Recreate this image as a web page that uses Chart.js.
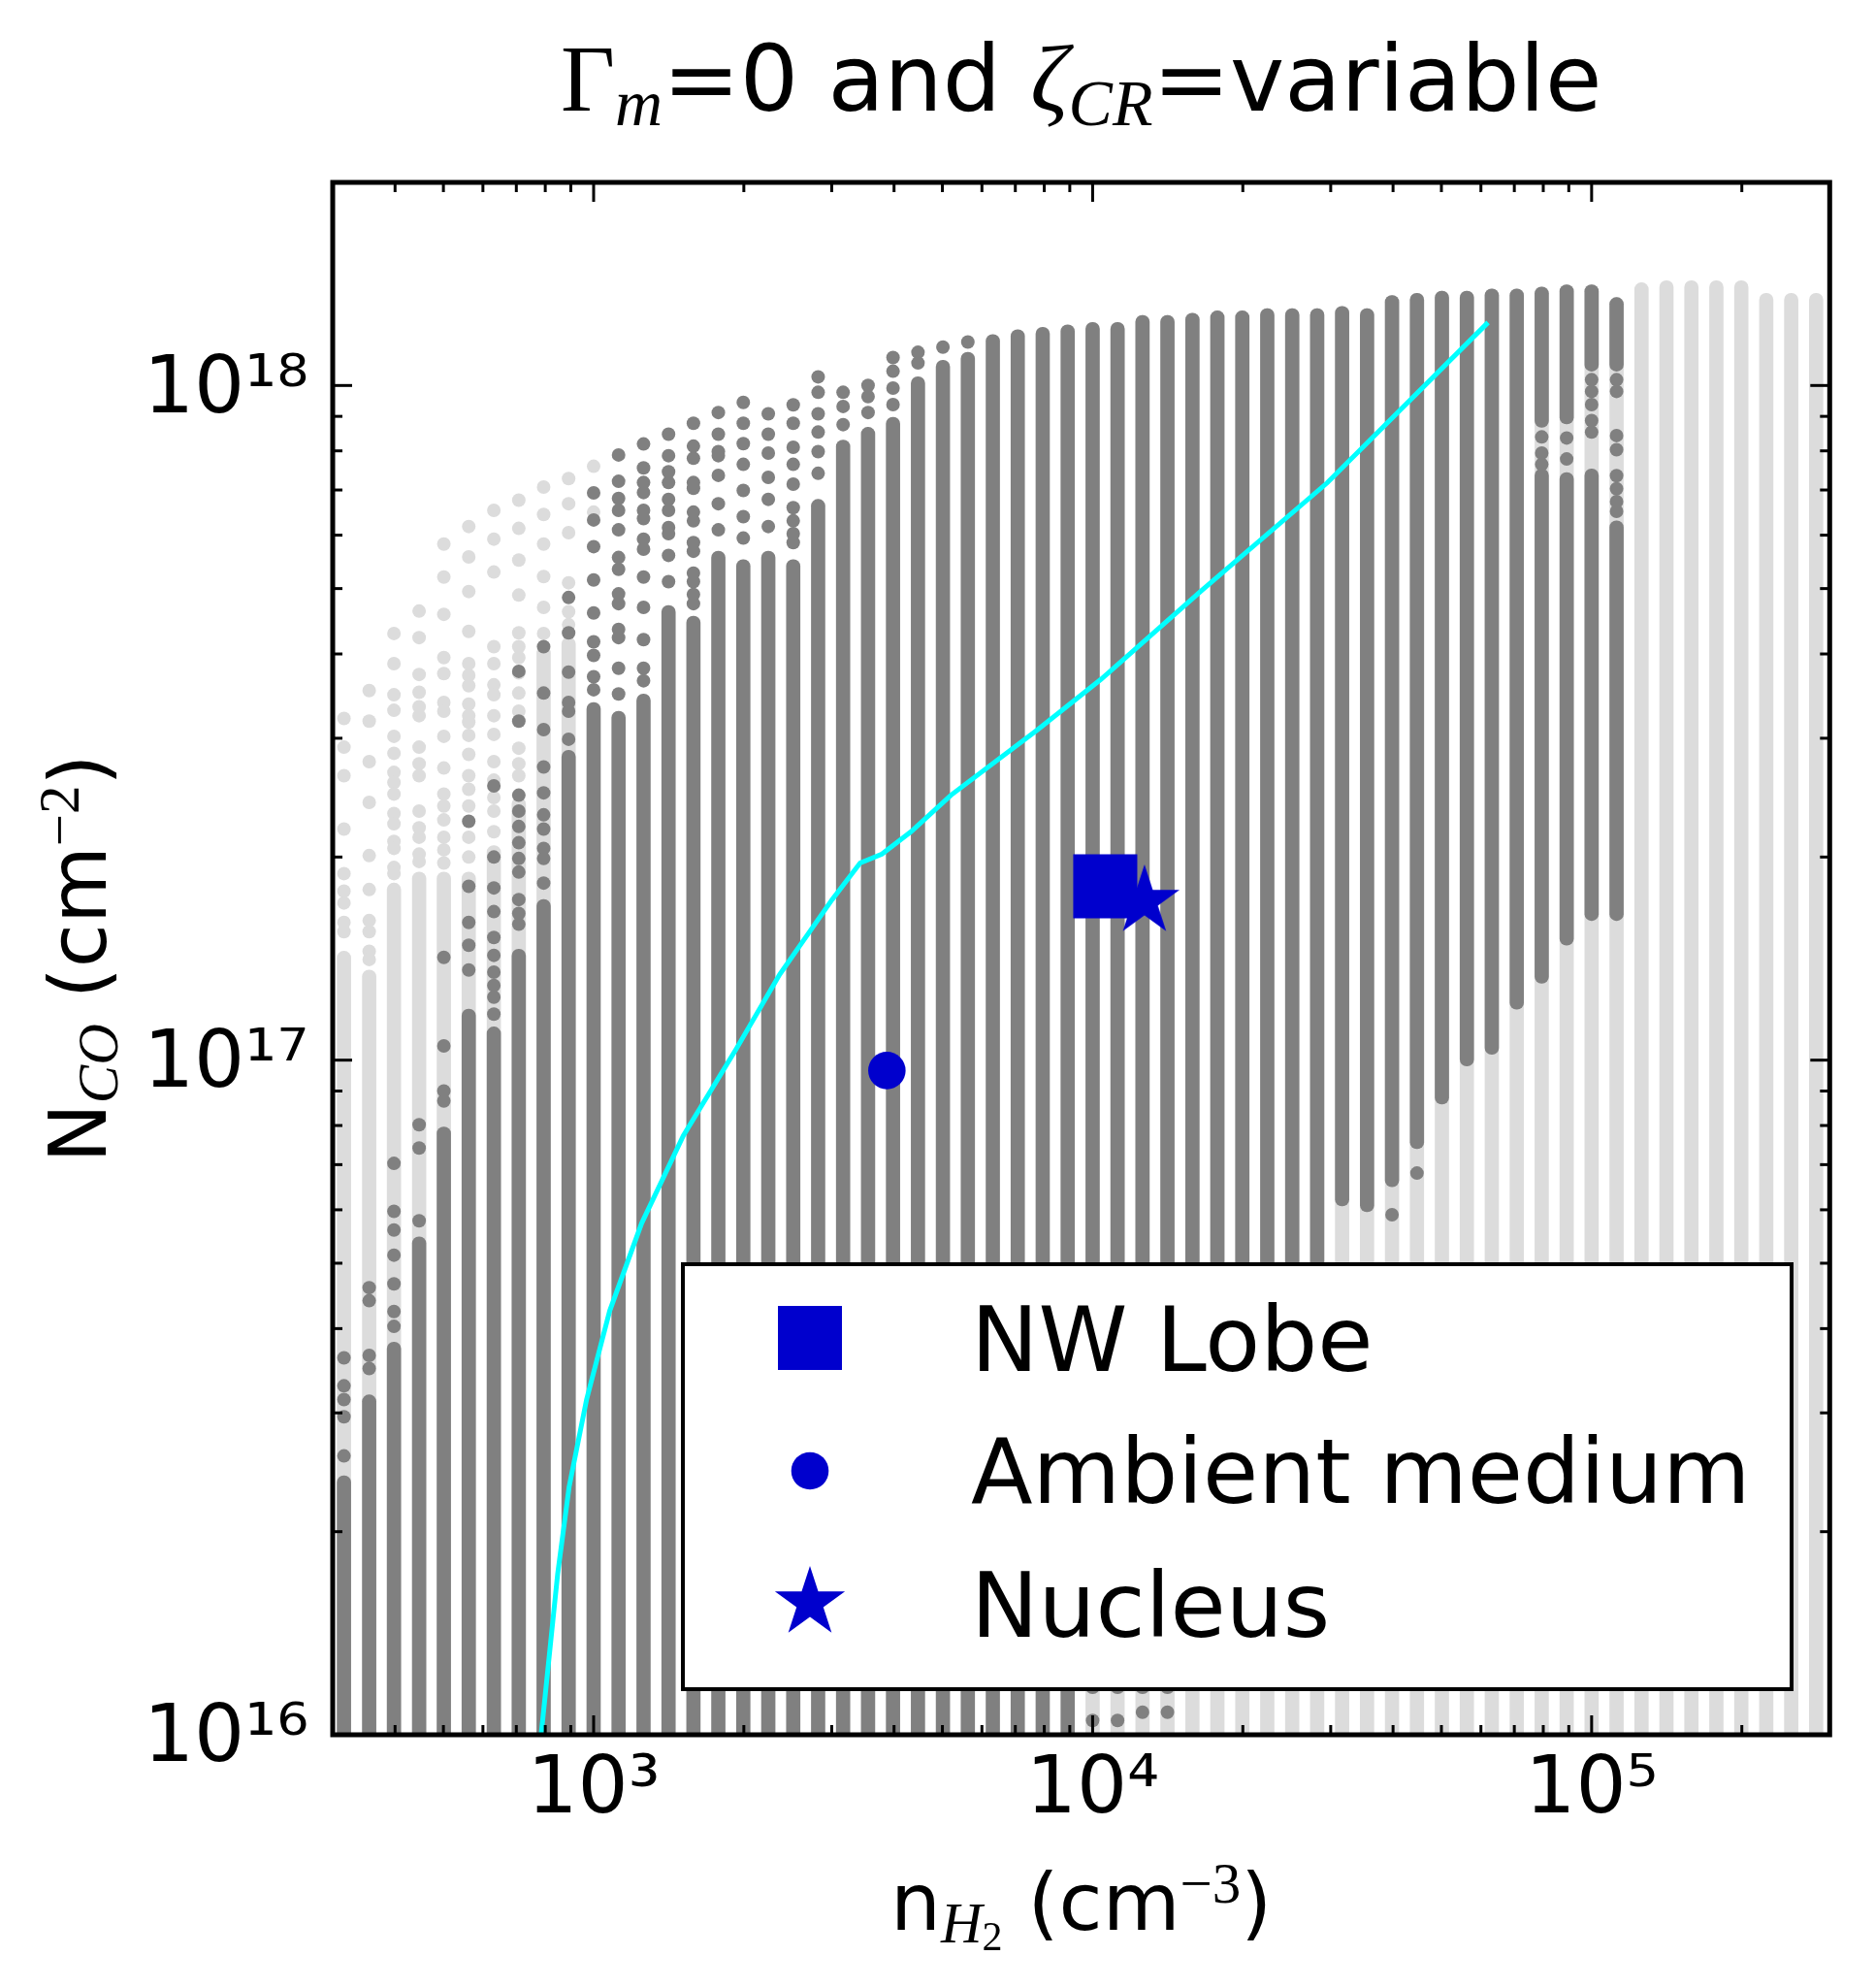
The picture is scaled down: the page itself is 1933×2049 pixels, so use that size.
<!DOCTYPE html>
<html>
<head>
<meta charset="utf-8">
<script src="https://cdn.jsdelivr.net/npm/chart.js@4.4.1/dist/chart.umd.min.js"></script>
<style>
html,body{margin:0;padding:0;background:#ffffff;overflow:hidden}
canvas{display:block}
</style>
</head>
<body>
<canvas id="c" width="1933" height="2049" style="width:1933px;height:2049px"></canvas>
<script>
// ---------------- DATA ----------------
// model density grid (n_H2, cm^-3), one column of models per value
const nH2Grid = [316, 355, 398, 447, 501, 562, 631, 708, 794, 891,
  1000, 1122, 1259, 1413, 1585, 1778, 1995, 2239, 2512, 2818,
  3162, 3548, 3981, 4467, 5012, 5623, 6310, 7079, 7943, 8913,
  10000, 11220, 12589, 14125, 15849, 17783, 19953, 22387, 25119, 28184,
  31623, 35481, 39811, 44668, 50119, 56234, 63096, 70795, 79433, 89125,
  100000, 112202, 125893, 141254, 158489, 177828, 199526, 223872, 251189, 281838];

// lowest model column density (runs below the plotted range)
const modelFloor = 8e15;

// all models (light grey): top of the continuous part of each column
const allModelsTop = [1.45e17, 1.36e17, 1.83e17, 1.90e17, 1.90e17, 1.90e17, 2.08e17, 2.45e17, 4.10e17, 4.23e17,
  null, null, null, null, null, null, null, null, null, null,
  null, null, null, null, null, null, null, null, null, null,
  1.24e18, 1.24e18, 1.27e18, 1.27e18, 1.28e18, 1.29e18, 1.29e18, 1.30e18, 1.30e18, 1.30e18,
  1.31e18, 1.30e18, 1.36e18, 1.37e18, 1.38e18, 1.38e18, 1.39e18, 1.39e18, 1.40e18, 1.41e18,
  1.41e18, 1.35e18, 1.42e18, 1.43e18, 1.43e18, 1.43e18, 1.43e18, 1.37e18, 1.37e18, 1.37e18];

// all models: isolated points above the continuous part
const allModelsSparse = [
  [3.21e17, 2.91e17, 2.64e17, 2.20e17, 1.89e17, 1.78e17, 1.71e17, 1.60e17, 1.55e17],
  [3.53e17, 3.18e17, 2.77e17, 2.41e17, 2.01e17, 1.79e17, 1.61e17, 1.55e17, 1.45e17, 1.41e17],
  [4.29e17, 3.87e17, 3.48e17, 3.30e17, 3.02e17, 2.85e17, 2.67e17, 2.58e17, 2.48e17, 2.32e17, 2.24e17, 2.11e17, 2.06e17, 1.93e17, 1.89e17],
  [4.63e17, 4.23e17, 3.73e17, 3.51e17, 3.34e17, 3.24e17, 2.91e17, 2.75e17, 2.64e17, 2.34e17, 2.21e17, 2.14e17, 2.02e17, 1.97e17],
  [5.82e17, 5.20e17, 4.58e17, 3.95e17, 3.74e17, 3.39e17, 3.29e17, 3.02e17, 2.71e17, 2.48e17, 2.38e17, 2.27e17, 2.14e17, 2.05e17, 1.96e17],
  [6.18e17, 5.57e17, 4.95e17, 4.32e17, 3.87e17, 3.72e17, 3.59e17, 3.37e17, 3.24e17, 3.17e17, 3.03e17, 2.84e17, 2.64e17, 2.52e17, 2.38e17, 2.14e17, 2.00e17],
  [6.53e17, 5.92e17, 5.29e17, 4.10e17, 3.87e17, 3.60e17, 3.48e17, 3.24e17, 3.04e17, 2.77e17, 2.60e17, 2.45e17, 2.34e17, 2.18e17],
  [6.76e17, 6.14e17, 5.51e17, 4.89e17, 4.30e17, 4.10e17, 3.95e17, 3.75e17, 3.50e17, 3.29e17, 2.90e17, 2.75e17, 2.64e17],
  [7.07e17, 6.44e17, 5.82e17, 5.21e17, 4.69e17, 4.29e17],
  [7.28e17, 6.68e17, 6.05e17, 5.10e17, 4.62e17, 4.42e17],
  [7.59e17, 6.49e17],
  [], [], [], [], [], [], [], [], [],
  [], [], [], [], [], [], [], [], [], [],
  [], [], [], [], [], [], [], [], [], [],
  [], [], [], [], [], [], [], [], [], [],
  [], [], [], [], [], [], [], [], [], []];

// models matching the observations (dark grey): continuous part of each column
const fitModelsTop = [2.42e16, 3.19e16, 3.82e16, 5.47e16, 7.96e16, 1.19e17, 1.12e17, 1.46e17, 1.73e17, 2.88e17,
  3.39e17, 3.29e17, 3.49e17, 4.72e17, 4.55e17, 5.68e17, 5.52e17, 5.68e17, 5.52e17, 6.78e17,
  8.30e17, 8.67e17, 8.97e17, 1.03e18, 1.09e18, 1.12e18, 1.19e18, 1.21e18, 1.22e18, 1.23e18,
  1.24e18, 1.24e18, 1.27e18, 1.27e18, 1.28e18, 1.29e18, 1.29e18, 1.30e18, 1.30e18, 1.30e18,
  1.31e18, 1.30e18, 1.36e18, 1.37e18, 1.38e18, 1.38e18, 1.39e18, 1.39e18, 1.40e18, 1.41e18,
  1.41e18, 1.35e18, null, null, null, null, null, null, null, null];
const fitModelsBottom = [8e15, 8e15, 8e15, 8e15, 8e15, 8e15, 8e15, 8e15, 8e15, 8e15,
  8e15, 8e15, 8e15, 8e15, 8e15, 8e15, 8e15, 8e15, 8e15, 8e15,
  8e15, 8e15, 8e15, 8e15, 8e15, 8e15, 8e15, 8e15, 8e15, 8e15,
  1.15e16, 1.15e16, 1.15e16, 1.15e16, 1.2e16, 1.2e16, 1.3e16, 1.4e16, 1.6e16, 2.0e16,
  6.08e16, 5.96e16, 6.49e16, 7.39e16, 8.61e16, 9.80e16, 1.02e17, 1.19e17, 1.30e17, 1.48e17,
  1.61e17, 1.61e17, null, null, null, null, null, null, null, null];
// breaks inside a few dark columns
const fitGapAt = [79433, 89125, 100000, 112202];
const fitGapHigh = [8.67e17, 8.77e17, 1.05e18, 1.05e18];
const fitGapLow = [7.52e17, 7.43e17, 7.52e17, 6.30e17];

// matching models: isolated points
const fitModelsSparse = [
  [3.62e16, 3.29e16, 3.14e16, 2.96e16, 2.59e16],
  [4.60e16, 4.40e16, 3.65e16, 3.49e16],
  [7.03e16, 5.97e16, 5.60e16, 5.14e16, 4.66e16, 4.24e16, 4.03e16],
  [8.02e16, 7.41e16, 5.78e16],
  [1.42e17, 1.05e17, 9.0e16, 8.7e16],
  [2.26e17, 1.81e17, 1.60e17, 1.48e17, 1.36e17],
  [2.55e17, 2.00e17, 1.80e17, 1.66e17, 1.52e17, 1.43e17, 1.35e17, 1.29e17, 1.24e17, 1.17e17],
  [3.77e17, 3.18e17, 2.47e17, 2.34e17, 2.22e17, 2.10e17, 1.99e17, 1.90e17, 1.73e17, 1.65e17, 1.59e17],
  [4.10e17, 3.50e17, 3.09e17, 2.72e17, 2.49e17, 2.31e17, 2.20e17, 2.06e17, 1.99e17, 1.83e17],
  [4.85e17, 4.30e17, 3.76e17, 3.39e17, 3.29e17, 2.99e17],
  [6.93e17, 6.32e17, 5.77e17, 5.15e17, 4.60e17, 4.17e17, 3.98e17, 3.70e17, 3.54e17],
  [7.89e17, 7.21e17, 6.80e17, 6.53e17, 6.11e17, 5.56e17, 5.34e17, 4.91e17, 4.75e17, 4.35e17, 4.23e17, 3.81e17, 3.49e17],
  [8.19e17, 7.55e17, 7.18e17, 6.94e17, 6.53e17, 6.35e17, 5.92e17, 5.72e17, 5.20e17, 4.69e17, 4.20e17, 3.81e17, 3.65e17],
  [8.47e17, 7.87e17, 7.45e17, 7.18e17, 6.78e17, 6.53e17, 6.16e17, 6.03e17, 5.60e17, 5.12e17],
  [8.79e17, 8.13e17, 7.80e17, 7.18e17, 7.04e17, 6.49e17, 6.30e17, 5.85e17, 5.68e17, 5.27e17, 5.12e17, 4.90e17, 4.75e17],
  [9.12e17, 8.47e17, 7.98e17, 7.87e17, 7.36e17, 6.68e17, 6.11e17],
  [9.44e17, 8.79e17, 8.20e17, 7.64e17, 6.99e17, 6.39e17, 5.94e17],
  [9.08e17, 8.47e17, 7.94e17, 7.31e17, 6.78e17, 6.18e17],
  [9.36e17, 8.79e17, 8.10e17, 7.64e17, 7.14e17, 6.59e17, 6.30e17, 6.03e17, 5.85e17],
  [1.03e18, 9.77e17, 9.08e17, 8.53e17, 7.98e17, 7.41e17],
  [9.77e17, 9.31e17, 8.75e17],
  [1.00e18, 9.63e17, 9.12e17],
  [1.10e18, 1.05e18, 9.91e17, 9.37e17],
  [1.12e18, 1.08e18],
  [1.14e18],
  [1.16e18],
  [], [], [], [],
  [1.05e16], [1.05e16], [1.08e16], [1.08e16], [], [], [], [], [], [],
  [], [], [5.9e16], [6.8e16], [], [], [], [], [8.39e17, 7.94e17, 7.64e17], [8.36e17, 7.78e17],
  [1.02e18, 9.80e17, 9.37e17, 8.87e17, 8.53e17], [1.02e18, 9.80e17, 8.43e17, 8.03e17, 7.35e17, 7.03e17, 6.73e17, 6.51e17],
  [], [], [], [], [], [], [], []];

// cyan model curve
const curveNH2 = [785, 847, 893, 968, 1077, 1248, 1513, 1933, 2360, 3006, 3420, 3782, 4324, 5200, 7762, 10400, 16600, 29500, 62000];
const curveNCO = [1.0e16, 1.73e16, 2.33e16, 3.14e16, 4.25e16, 5.73e16, 7.73e16, 1.04e17, 1.34e17, 1.73e17, 1.96e17, 2.02e17, 2.18e17, 2.47e17, 3.09e17, 3.67e17, 4.98e17, 7.17e17, 1.24e18];

// observed sources
const sourceNames = ['NW Lobe', 'Ambient medium', 'Nucleus'];
const sourceNH2 = [1.06e4, 3.87e3, 1.27e4];
const sourceNCO = [1.81e17, 9.65e16, 1.72e17];

// axes
const xMajorTicks = [1e3, 1e4, 1e5];
const xTickLabels = ['10³', '10⁴', '10⁵'];
const yMajorTicks = [1e16, 1e17, 1e18];
const yTickLabels = ['10¹⁶', '10¹⁷', '10¹⁸'];
const xMinorTicks = [400, 500, 600, 700, 800, 900, 2000, 3000, 4000, 5000, 6000, 7000, 8000, 9000,
  20000, 30000, 40000, 50000, 60000, 70000, 80000, 90000, 200000];
const yMinorTicks = [2e16, 3e16, 4e16, 5e16, 6e16, 7e16, 8e16, 9e16, 2e17, 3e17, 4e17, 5e17, 6e17, 7e17, 8e17, 9e17];

// ---------------- STYLE ----------------
const SANS = '"DejaVu Sans", sans-serif';
const SERIF = '"Liberation Serif", "DejaVu Serif", serif';
const DARK = '#808080', LIGHT = '#dcdcdc', BLUE = '#0000cd', CYAN = '#00ffff';

function makeStar(R) {
  const s = Math.ceil(2 * R + 4);
  const c = document.createElement('canvas');
  c.width = s; c.height = s;
  const g = c.getContext('2d');
  g.fillStyle = BLUE;
  g.beginPath();
  for (let i = 0; i < 10; i++) {
    const r = i % 2 === 0 ? R : R * 0.381966;
    const a = -Math.PI / 2 + i * Math.PI / 5;
    const px = s / 2 + r * Math.cos(a), py = s / 2 + r * Math.sin(a);
    if (i === 0) g.moveTo(px, py); else g.lineTo(px, py);
  }
  g.closePath();
  g.fill();
  return c;
}
const starImg = makeStar(38);

// ---------------- BUILD DATASETS ----------------
const lightBars = [], darkBars = [], lightDots = [], darkDots = [];
nH2Grid.forEach((n, i) => {
  if (allModelsTop[i] !== null) lightBars.push({x: n, y: [modelFloor, allModelsTop[i]]});
  allModelsSparse[i].forEach(v => lightDots.push({x: n, y: v}));
  if (fitModelsTop[i] !== null) {
    const g = fitGapAt.indexOf(n);
    if (g >= 0) {
      darkBars.push({x: n, y: [fitModelsBottom[i], fitGapLow[g]]});
      darkBars.push({x: n, y: [fitGapHigh[g], fitModelsTop[i]]});
    } else {
      darkBars.push({x: n, y: [fitModelsBottom[i], fitModelsTop[i]]});
    }
  }
  fitModelsSparse[i].forEach(v => darkDots.push({x: n, y: v}));
});
const curve = curveNH2.map((n, i) => ({x: n, y: curveNCO[i]}));
const src = sourceNH2.map((n, i) => ({x: n, y: sourceNCO[i]}));

const barCommon = {type: 'bar', barThickness: 14, borderRadius: 7, borderSkipped: false, borderWidth: 0, grouped: false, clip: 0};
const dotCommon = {type: 'scatter', pointRadius: 7, pointBorderWidth: 0, borderWidth: 0, clip: 0};

// ---------------- PLUGINS ----------------
function drawRich(ctx, segs, x, y) {
  let total = 0;
  segs.forEach(s => { ctx.font = s.font; s.w = ctx.measureText(s.text).width; total += s.w; });
  let cx = x - total / 2;
  segs.forEach(s => { ctx.font = s.font; ctx.fillText(s.text, cx, y + (s.dy || 0)); cx += s.w; });
}

const framePlugin = {
  id: 'frame',
  afterDatasetsDraw(chart) {
    const {ctx, chartArea: a, scales: {x, y}} = chart;
    ctx.save();
    ctx.strokeStyle = '#000';
    ctx.lineWidth = 3;
    ctx.lineCap = 'butt';
    const seg = (x1, y1, x2, y2) => { ctx.beginPath(); ctx.moveTo(x1, y1); ctx.lineTo(x2, y2); ctx.stroke(); };
    xMajorTicks.forEach(v => { const p = x.getPixelForValue(v); seg(p, a.bottom, p, a.bottom - 20); seg(p, a.top, p, a.top + 20); });
    xMinorTicks.forEach(v => { const p = x.getPixelForValue(v); seg(p, a.bottom, p, a.bottom - 10); seg(p, a.top, p, a.top + 10); });
    yMajorTicks.forEach(v => { const p = y.getPixelForValue(v); seg(a.left, p, a.left + 20, p); seg(a.right, p, a.right - 20, p); });
    yMinorTicks.forEach(v => { const p = y.getPixelForValue(v); seg(a.left, p, a.left + 10, p); seg(a.right, p, a.right - 10, p); });
    ctx.lineWidth = 5;
    ctx.strokeRect(a.left, a.top, a.right - a.left, a.bottom - a.top);
    ctx.restore();
  },
  afterDraw(chart) {
    const {ctx, chartArea: a} = chart;
    ctx.save();
    ctx.fillStyle = '#000';
    ctx.textAlign = 'left';
    ctx.textBaseline = 'alphabetic';
    const cx = (a.left + a.right) / 2, cy = (a.top + a.bottom) / 2;
    // title
    drawRich(ctx, [
      {text: 'Γ', font: `97px ${SERIF}`},
      {text: 'm', font: `italic 68px ${SERIF}`, dy: 15},
      {text: '=0 and ', font: `95px ${SANS}`},
      {text: 'ζ', font: `italic 97px ${SERIF}`},
      {text: 'CR', font: `italic 68px ${SERIF}`, dy: 15},
      {text: '=variable', font: `95px ${SANS}`}
    ], cx, 114);
    // x label
    drawRich(ctx, [
      {text: 'n', font: `82px ${SANS}`},
      {text: 'H', font: `italic 59px ${SERIF}`, dy: 13},
      {text: '2', font: `42px ${SERIF}`, dy: 21},
      {text: ' (cm', font: `82px ${SANS}`},
      {text: '−3', font: `59px ${SERIF}`, dy: -28},
      {text: ')', font: `82px ${SANS}`}
    ], cx, 1989);
    // y label
    ctx.save();
    ctx.translate(109, cy);
    ctx.rotate(-Math.PI / 2);
    drawRich(ctx, [
      {text: 'N', font: `82px ${SANS}`},
      {text: 'CO', font: `italic 59px ${SERIF}`, dy: 12},
      {text: ' (cm', font: `82px ${SANS}`},
      {text: '−2', font: `59px ${SERIF}`, dy: -28},
      {text: ')', font: `82px ${SANS}`}
    ], 0, 0);
    ctx.restore();
    // legend
    const L = 704, T = 1303, R = 1847, B = 1741;
    ctx.fillStyle = '#fff';
    ctx.fillRect(L, T, R - L, B - T);
    ctx.strokeStyle = '#000';
    ctx.lineWidth = 4;
    ctx.strokeRect(L, T, R - L, B - T);
    const mx = 835, rows = [1379, 1516, 1652], base = [1413, 1549, 1687];
    ctx.fillStyle = BLUE;
    ctx.fillRect(mx - 33, rows[0] - 33, 66, 66);
    ctx.beginPath(); ctx.arc(mx, rows[1], 19.3, 0, Math.PI * 2); ctx.fill();
    ctx.drawImage(starImg, mx - starImg.width / 2, rows[2] - starImg.height / 2);
    ctx.fillStyle = '#000';
    ctx.font = `93px ${SANS}`;
    sourceNames.forEach((t, i) => ctx.fillText(t, 1001, base[i]));
    ctx.restore();
  }
};

// ---------------- CHART ----------------
const tickFont = {family: SANS, size: 82};
new Chart(document.getElementById('c'), {
  type: 'scatter',
  data: {
    datasets: [
      {type: 'scatter', label: sourceNames[0], data: [src[0]], pointStyle: 'rect', pointRadius: 46.7, pointBorderWidth: 0, backgroundColor: BLUE, order: 0, clip: 0},
      {type: 'scatter', label: sourceNames[1], data: [src[1]], pointStyle: 'circle', pointRadius: 19.3, pointBorderWidth: 0, backgroundColor: BLUE, order: 0, clip: 0},
      {type: 'scatter', label: sourceNames[2], data: [src[2]], pointStyle: starImg, pointRadius: 38, pointBorderWidth: 0, backgroundColor: BLUE, order: 0, clip: 0},
      {type: 'line', label: 'model curve', data: curve, borderColor: CYAN, borderWidth: 5, pointRadius: 0, tension: 0, fill: false, order: 1, clip: 0},
      Object.assign({label: 'matching models (points)', data: darkDots, backgroundColor: DARK, order: 2}, dotCommon),
      Object.assign({label: 'matching models', data: darkBars, backgroundColor: DARK, order: 3}, barCommon),
      Object.assign({label: 'all models (points)', data: lightDots, backgroundColor: LIGHT, order: 4}, dotCommon),
      Object.assign({label: 'all models', data: lightBars, backgroundColor: LIGHT, order: 5}, barCommon)
    ]
  },
  options: {
    responsive: false,
    animation: false,
    devicePixelRatio: 1,
    events: [],
    layout: {padding: {left: 0, top: 188, right: 40, bottom: 0}},
    plugins: {legend: {display: false}, tooltip: {enabled: false}, title: {display: false}},
    scales: {
      x: {
        type: 'logarithmic', min: 300, max: 3e5, offset: false,
        grid: {display: false, drawTicks: false, offset: false},
        border: {display: false},
        ticks: {font: tickFont, color: '#000', padding: 10, maxRotation: 0, autoSkip: false,
          callback: (v) => { const i = xMajorTicks.indexOf(v); return i >= 0 ? xTickLabels[i] : ''; }},
        afterBuildTicks: (s) => { s.ticks = xMajorTicks.map(v => ({value: v})); },
        afterFit: (s) => { s.height = 261; }
      },
      y: {
        type: 'logarithmic', min: 1e16, max: 2e18, beginAtZero: false,
        grid: {display: false, drawTicks: false},
        border: {display: false},
        ticks: {font: tickFont, color: '#000', padding: 25, labelOffset: 6, autoSkip: false,
          callback: (v) => { const i = yMajorTicks.indexOf(v); return i >= 0 ? yTickLabels[i] : ''; }},
        afterBuildTicks: (s) => { s.ticks = yMajorTicks.map(v => ({value: v})); },
        afterFit: (s) => { s.width = 343; }
      }
    }
  },
  plugins: [framePlugin]
});
</script>
</body>
</html>
